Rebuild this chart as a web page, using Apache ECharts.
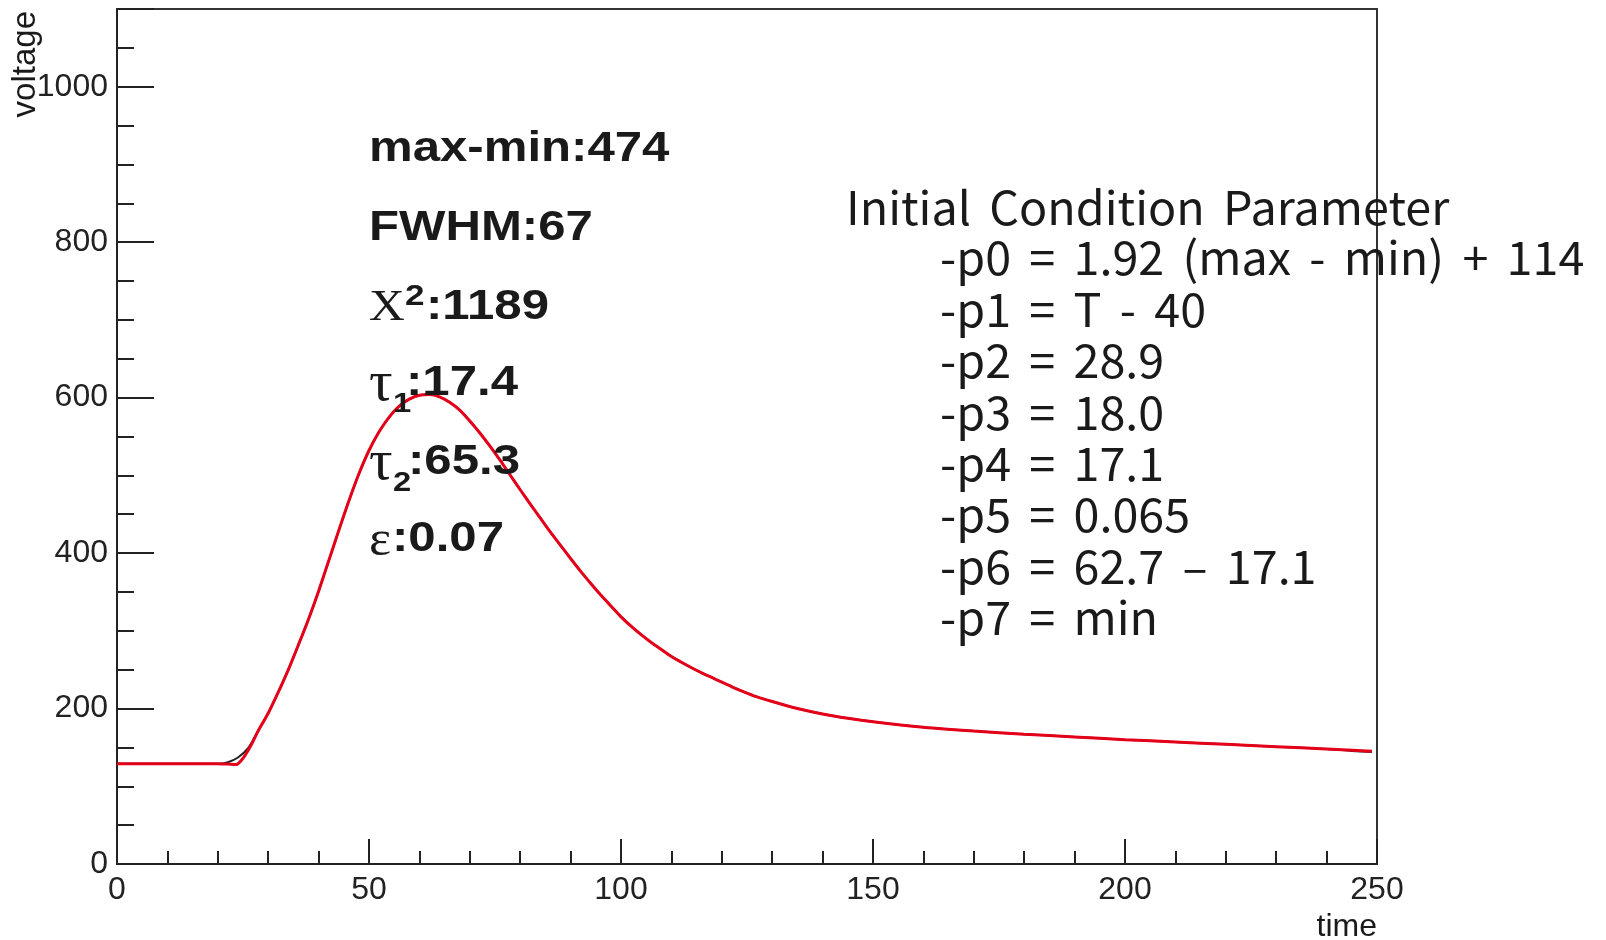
<!DOCTYPE html>
<html><head><meta charset="utf-8">
<script src="https://cdn.jsdelivr.net/npm/echarts@6/dist/echarts.min.js"></script>
<style>html,body{margin:0;padding:0;background:#fff}#c{width:1606px;height:940px}</style>
</head><body><div id="c"></div>
<script>
// measured waveform (black)
const times   = [0,5,10,15,20,22,24,26,28,30,32,34,36,38,40,42,44,46,48,50,52,54,56,58,60,62,64,66,68,70,72,74,76,78,80,82,84,86,88,90,92,94,96,98,100,102,104,106,108,110,112,114,116,118,120,122,124,127,130,135,140,145,150,160,170,180,190,200,210,220,230,240,245,249];
const voltage = [129,129,129,129,129,131,137,149,171,194,221,250,282,315,351,390,429,467,502,532,556,575,589,598,603,604,601,594,584,570,554.5,537.5,519.5,500.5,481.5,463,445,427,410,393,376.5,361,346,332,318,306,295,285,276,267,259.5,252.5,246,240,234,228,222.5,215,209,200,193,187.5,183,176,171,167,163.5,160,157,154,151,148,145.5,144];
// fitted curve (red)
const fitTimes   = [0,5,10,15,20,22,23.7,25,26,27,28,30,32,34,36,38,40,42,44,46,48,50,52,54,56,58,60,62,64,66,68,70,72,74,76,78,80,82,84,86,88,90,92,94,96,98,100,102,104,106,108,110,112,114,116,118,120,122,124,127,130,135,140,145,150,160,170,180,190,200,210,220,230,240,249];
const fitVoltage = [129,129,129,129,129,128.5,128,136,146,158,171,194,221,250,282,315,351,390,429,467,502,532,556,575,589,598,603,604,601,594,584,570,554.5,537.5,519.5,500.5,481.5,463,445,427,410,393,376.5,361,346,332,318,306,295,285,276,267,259.5,252.5,246,240,234,228,222.5,215,209,200,193,187.5,183,176,171,167,163.5,160,157,154,151,148,145];

const xName = 'time';
const yName = 'voltage';
const statValues = ['474','67','1189','17.4','65.3','0.07'];
const paramTitle = 'Initial Condition Parameter';
const paramLines = ['-p0 = 1.92 (max - min) + 114','-p1 = T - 40','-p2 = 28.9','-p3 = 18.0','-p4 = 17.1','-p5 = 0.065','-p6 = 62.7 \u2013 17.1','-p7 = min'];

const chart = echarts.init(document.getElementById('c'), null, {renderer:'canvas'});
const SANS = 'Liberation Sans, Arial, sans-serif';
const SERIF = 'Liberation Serif, Times New Roman, serif';
const JP = 'Noto Sans CJK JP, sans-serif';
const ink = '#1a1a1a';

function txt(x, y, text, o) {
  const st = {text:text, fill:ink, fontFamily:(o&&o.ff)||SANS, fontSize:(o&&o.fs)||42,
      fontWeight:(o&&o.fw)||'bold', align:(o&&o.al)||'left', textAlign:(o&&o.al)||'left',
      verticalAlign:'middle', textVerticalAlign:'middle'};
  if (o && o.rich) st.rich = o.rich;
  return {type:'text', x:x, y:y, z:100, scaleX:(o && o.sx) || 1, style:st};
}
const spRich = {sp:{width:18, fontSize:46, fontFamily:JP}};
const spaced = s => s.split(' ').join('{sp| }');
const SX = 1.17;
const lx = 369;
const rows = [149, 228, 307, 383.5, 462, 539];
const graphics = [
  txt(lx, rows[0], 'max-min:' + statValues[0], {sx:SX}),
  txt(lx, rows[1], 'FWHM:' + statValues[1], {sx:SX}),
  txt(lx, rows[2]+1, 'X', {ff:SERIF, fw:'normal', fs:45, sx:1.1}),
  txt(405, rows[2]-10, '2', {fs:30, sx:SX}),
  txt(426, rows[2], ':' + statValues[2], {sx:SX}),
  txt(lx, rows[3]+2, '\u03c4', {ff:SERIF, fw:'normal', fs:56, sx:1.05}),
  txt(393, rows[3]+21, '1', {fs:28, sx:SX}),
  txt(406, rows[3], ':' + statValues[3], {sx:SX}),
  txt(lx, rows[4]+2, '\u03c4', {ff:SERIF, fw:'normal', fs:56, sx:1.05}),
  txt(393, rows[4]+21, '2', {fs:28, sx:SX}),
  txt(408, rows[4], ':' + statValues[4], {sx:SX}),
  txt(lx, rows[5]+3, '\u03b5', {ff:SERIF, fw:'normal', fs:50, sx:1.05}),
  txt(392, rows[5], ':' + statValues[5], {sx:SX}),
  txt(846, 208, spaced(paramTitle), {ff:JP, fw:'normal', fs:46, sx:1.015, rich:spRich}),
];
paramLines.forEach((s, i) => graphics.push(txt(940, 258 + 51.4*i, spaced(s), {ff:JP, fw:'normal', fs:46, sx:1.015, rich:spRich})));
graphics.push(txt(1377, 927, xName, {fw:'normal', fs:32, al:'right'}));
graphics.push({type:'text', x:26, y:11, rotation:Math.PI/2, z:100,
  style:{text:yName, fill:ink, fontFamily:SANS, fontSize:33, align:'right', textAlign:'right', verticalAlign:'middle', textVerticalAlign:'middle'}});

const axisCommon = {
  axisLine:{show:true, onZero:false, lineStyle:{color:'#222', width:2}},
  splitLine:{show:false},
};
chart.setOption({
  animation:false,
  backgroundColor:'#fff',
  grid:{left:117, right:229, top:9, bottom:76, show:true, borderColor:'#333', borderWidth:2, backgroundColor:'transparent'},
  xAxis:Object.assign({}, axisCommon, {
    type:'value', min:0, max:250, interval:50,
    axisTick:{show:true, inside:true, length:25, lineStyle:{color:'#222', width:2}},
    minorTick:{show:true, splitNumber:5, length:13, lineStyle:{color:'#222', width:2}},
    axisLabel:{color:'#222', fontSize:32, fontFamily:SANS, margin:10, formatter:v => String(v)}
  }),
  yAxis:Object.assign({}, axisCommon, {
    type:'value', min:0, max:1100, interval:200,
    axisTick:{show:true, inside:true, length:37, lineStyle:{color:'#222', width:2}},
    minorTick:{show:true, splitNumber:4, length:17, lineStyle:{color:'#222', width:2}},
    axisLabel:{color:'#222', fontSize:32, fontFamily:SANS, margin:9, showMaxLabel:false, formatter:v => String(v)}
  }),
  series:[
    {type:'line', name:'data', data:times.map((t,i)=>[t, voltage[i]]), showSymbol:false, smooth:0.25,
     lineStyle:{color:'#222', width:2}, z:2},
    {type:'line', name:'fit', data:fitTimes.map((t,i)=>[t, fitVoltage[i]]), showSymbol:false, smooth:0.25,
     lineStyle:{color:'#e5001a', width:3}, z:3}
  ],
  graphic:graphics
});
</script></body></html>
